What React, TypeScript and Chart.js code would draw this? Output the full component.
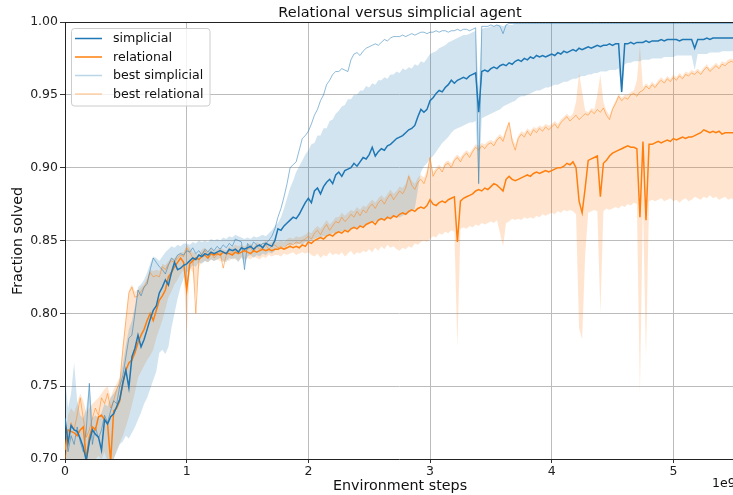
import React, { useEffect, useRef } from "react";
import { Chart, registerables } from "chart.js";

Chart.register(...registerables);

// Environment steps (units of 1e9)
const steps = [
  0, 0.025, 0.05, 0.075, 0.1, 0.125, 0.15, 0.175, 0.2, 0.225,
  0.25, 0.275, 0.3, 0.325, 0.35, 0.375, 0.4, 0.425, 0.45, 0.475,
  0.5, 0.525, 0.55, 0.575, 0.6, 0.625, 0.65, 0.675, 0.7, 0.725,
  0.75, 0.775, 0.8, 0.825, 0.85, 0.875, 0.9, 0.925, 0.95, 0.975,
  1, 1.025, 1.05, 1.075, 1.1, 1.125, 1.15, 1.175, 1.2, 1.225,
  1.25, 1.275, 1.3, 1.325, 1.35, 1.375, 1.4, 1.425, 1.45, 1.475,
  1.5, 1.525, 1.55, 1.575, 1.6, 1.625, 1.65, 1.675, 1.7, 1.725,
  1.75, 1.775, 1.8, 1.825, 1.85, 1.875, 1.9, 1.925, 1.95, 1.975,
  2, 2.025, 2.05, 2.075, 2.1, 2.125, 2.15, 2.175, 2.2, 2.225,
  2.25, 2.275, 2.3, 2.325, 2.35, 2.375, 2.4, 2.425, 2.45, 2.475,
  2.5, 2.525, 2.55, 2.575, 2.6, 2.625, 2.65, 2.675, 2.7, 2.725,
  2.75, 2.775, 2.8, 2.825, 2.85, 2.875, 2.9, 2.925, 2.95, 2.975,
  3, 3.025, 3.05, 3.075, 3.1, 3.125, 3.15, 3.175, 3.2, 3.225,
  3.25, 3.275, 3.3, 3.325, 3.35, 3.375, 3.4, 3.425, 3.45, 3.475,
  3.5, 3.525, 3.55, 3.575, 3.6, 3.625, 3.65, 3.675, 3.7, 3.725,
  3.75, 3.775, 3.8, 3.825, 3.85, 3.875, 3.9, 3.925, 3.95, 3.975,
  4, 4.025, 4.05, 4.075, 4.1, 4.125, 4.15, 4.175, 4.2, 4.225,
  4.25, 4.275, 4.3, 4.325, 4.35, 4.375, 4.4, 4.425, 4.45, 4.475,
  4.5, 4.525, 4.55, 4.575, 4.6, 4.625, 4.65, 4.675, 4.7, 4.725,
  4.75, 4.775, 4.8, 4.825, 4.85, 4.875, 4.9, 4.925, 4.95, 4.975,
  5, 5.025, 5.05, 5.075, 5.1, 5.125, 5.15, 5.175, 5.2, 5.225,
  5.25, 5.275, 5.3, 5.325, 5.35, 5.375, 5.4, 5.425, 5.45, 5.475, 5.5,
];

// Simplicial agent: mean fraction solved
const simplicialMean = [
  0.728, 0.711, 0.723, 0.72, 0.719, 0.714, 0.708, 0.699, 0.712, 0.72,
  0.717, 0.715, 0.706, 0.727, 0.724, 0.729, 0.731, 0.736, 0.741, 0.752,
  0.761, 0.749, 0.77, 0.776, 0.785, 0.777, 0.782, 0.789, 0.796, 0.802,
  0.805, 0.814, 0.818, 0.823, 0.8195, 0.828, 0.835, 0.83, 0.831, 0.833,
  0.834, 0.836, 0.838, 0.837, 0.84, 0.839, 0.841, 0.84, 0.842, 0.841,
  0.842, 0.843, 0.842, 0.841, 0.844, 0.843, 0.844, 0.842, 0.845, 0.844,
  0.845, 0.846, 0.844, 0.846, 0.847, 0.845, 0.848, 0.847, 0.846, 0.85,
  0.858, 0.857, 0.86, 0.862, 0.864, 0.866, 0.865, 0.868, 0.872, 0.876,
  0.879, 0.876, 0.884, 0.886, 0.882, 0.887, 0.89, 0.892, 0.889, 0.895,
  0.897, 0.894, 0.898, 0.899, 0.9, 0.903, 0.901, 0.904, 0.907, 0.906,
  0.909, 0.914, 0.908, 0.911, 0.913, 0.912, 0.915, 0.916, 0.918, 0.92,
  0.921, 0.922, 0.924, 0.926, 0.927, 0.929, 0.935, 0.94, 0.938, 0.94,
  0.946, 0.948, 0.951, 0.953, 0.952, 0.955, 0.957, 0.96, 0.958, 0.96,
  0.961, 0.962, 0.961, 0.963, 0.964, 0.965, 0.938, 0.966, 0.967, 0.966,
  0.968, 0.969, 0.968, 0.97, 0.971, 0.97, 0.972, 0.971, 0.973, 0.974,
  0.973, 0.975, 0.974, 0.976, 0.975, 0.977, 0.976, 0.977, 0.976, 0.977,
  0.978, 0.977, 0.979, 0.978, 0.98, 0.979, 0.98, 0.981, 0.98, 0.982,
  0.981, 0.982, 0.983, 0.982, 0.983, 0.984, 0.983, 0.984, 0.984, 0.985,
  0.984, 0.985, 0.985, 0.952, 0.985, 0.985, 0.986, 0.985, 0.986, 0.986,
  0.986, 0.987, 0.986, 0.987, 0.987, 0.987, 0.988, 0.987, 0.988, 0.988,
  0.988, 0.988, 0.987, 0.988, 0.988, 0.988, 0.988, 0.982, 0.988, 0.988,
  0.988, 0.989, 0.988, 0.989, 0.989, 0.989, 0.989, 0.989, 0.989, 0.989, 0.989,
];

// Simplicial agent: best seed
const simplicialBest = [
  0.72, 0.705, 0.716, 0.71, 0.722, 0.712, 0.705, 0.72, 0.752, 0.71,
  0.722, 0.714, 0.72, 0.73, 0.725, 0.733, 0.74, 0.738, 0.75, 0.757,
  0.77, 0.783, 0.785, 0.8, 0.816, 0.812, 0.818, 0.82, 0.83, 0.838,
  0.835, 0.832, 0.83, 0.827, 0.833, 0.838, 0.836, 0.84, 0.841, 0.84,
  0.843, 0.842, 0.845, 0.841, 0.843, 0.84, 0.844, 0.842, 0.845, 0.843,
  0.846, 0.844, 0.847, 0.845, 0.848, 0.846, 0.851, 0.85, 0.849, 0.83,
  0.848, 0.845, 0.849, 0.847, 0.846, 0.848, 0.848, 0.85, 0.853, 0.858,
  0.866, 0.872, 0.88, 0.889, 0.9, 0.902, 0.904, 0.912, 0.92, 0.922,
  0.925, 0.93, 0.936, 0.94, 0.946, 0.95, 0.957, 0.96, 0.964, 0.966,
  0.966, 0.968, 0.967, 0.966, 0.974, 0.978, 0.979, 0.977, 0.98, 0.982,
  0.983, 0.984, 0.985, 0.984, 0.986, 0.988, 0.987, 0.989, 0.99, 0.99,
  0.99, 0.991, 0.99, 0.991, 0.992, 0.991, 0.992, 0.993, 0.993, 0.992,
  0.993, 0.993, 0.994, 0.993, 0.994, 0.994, 0.993, 0.994, 0.994, 0.995,
  0.994, 0.995, 0.995, 0.994, 0.995, 0.996, 0.889, 0.997, 0.997, 0.997,
  0.998, 0.997, 0.998, 0.997, 0.992, 0.998, 0.999, 0.999, 0.999, 0.999,
  0.999, 0.999, 0.999, 0.999, 0.999, 0.999, 0.999, 0.999, 0.999, 0.999,
  0.999, 0.999, 0.999, 0.999, 0.999, 0.999, 0.999, 0.999, 0.999, 0.999,
  0.999, 0.999, 0.999, 0.999, 0.999, 0.999, 0.999, 0.999, 0.999, 0.999,
  0.999, 0.999, 0.999, 0.999, 0.999, 0.999, 0.999, 0.999, 0.999, 0.999,
  0.999, 0.999, 0.999, 0.999, 0.999, 0.999, 0.999, 0.999, 0.999, 0.999,
  0.999, 0.999, 0.999, 0.999, 0.999, 0.999, 0.999, 0.999, 0.999, 0.999,
  0.999, 0.999, 0.999, 0.999, 0.999, 0.999, 0.999, 0.999, 0.999, 0.999, 0.999,
];

// Simplicial agent: spread across seeds (lower / upper)
const simplicialLow = [
  0.705, 0.69, 0.7, 0.695, 0.69, 0.69, 0.685, 0.68, 0.69, 0.695,
  0.69, 0.685, 0.68, 0.69, 0.695, 0.69, 0.7, 0.705, 0.71, 0.712,
  0.716, 0.714, 0.718, 0.722, 0.727, 0.732, 0.738, 0.742, 0.748, 0.754,
  0.76, 0.773, 0.775, 0.772, 0.777, 0.79, 0.8, 0.81, 0.818, 0.824,
  0.828, 0.83, 0.833, 0.832, 0.835, 0.834, 0.836, 0.835, 0.837, 0.836,
  0.837, 0.838, 0.836, 0.835, 0.838, 0.837, 0.838, 0.835, 0.839, 0.832,
  0.839, 0.84, 0.838, 0.84, 0.839, 0.841, 0.84, 0.842, 0.841, 0.843,
  0.845, 0.846, 0.845, 0.847, 0.846, 0.848, 0.847, 0.848, 0.847, 0.849,
  0.849, 0.85, 0.851, 0.852, 0.852, 0.853, 0.853, 0.854, 0.855, 0.855,
  0.856, 0.856, 0.857, 0.857, 0.858, 0.858, 0.859, 0.86, 0.86, 0.861,
  0.862, 0.862, 0.863, 0.863, 0.864, 0.864, 0.865, 0.865, 0.866, 0.866,
  0.866, 0.867, 0.868, 0.869, 0.87, 0.872, 0.885, 0.897, 0.901, 0.903,
  0.906, 0.908, 0.911, 0.914, 0.917, 0.919, 0.921, 0.924, 0.926, 0.927,
  0.928, 0.929, 0.93, 0.931, 0.931, 0.932, 0.887, 0.934, 0.935, 0.936,
  0.937, 0.938, 0.939, 0.94, 0.942, 0.943, 0.944, 0.945, 0.946, 0.948,
  0.949, 0.949, 0.95, 0.951, 0.952, 0.953, 0.953, 0.954, 0.955, 0.955,
  0.956, 0.957, 0.957, 0.958, 0.959, 0.959, 0.96, 0.961, 0.961, 0.962,
  0.963, 0.963, 0.964, 0.964, 0.965, 0.965, 0.966, 0.966, 0.966, 0.967,
  0.967, 0.967, 0.968, 0.95, 0.971, 0.972, 0.972, 0.973, 0.973, 0.973,
  0.974, 0.974, 0.974, 0.975, 0.975, 0.975, 0.975, 0.976, 0.976, 0.976,
  0.976, 0.977, 0.977, 0.977, 0.977, 0.977, 0.977, 0.967, 0.978, 0.978,
  0.978, 0.978, 0.979, 0.979, 0.979, 0.979, 0.98, 0.98, 0.98, 0.98, 0.98,
];

const simplicialHigh = [
  0.756, 0.735, 0.745, 0.766, 0.74, 0.73, 0.728, 0.735, 0.752, 0.728,
  0.73, 0.728, 0.732, 0.738, 0.736, 0.742, 0.745, 0.748, 0.755, 0.765,
  0.778, 0.789, 0.795, 0.805, 0.818, 0.82, 0.823, 0.828, 0.834, 0.839,
  0.838, 0.836, 0.839, 0.842, 0.844, 0.846, 0.845, 0.847, 0.846, 0.848,
  0.848, 0.847, 0.849, 0.848, 0.85, 0.849, 0.85, 0.849, 0.851, 0.85,
  0.851, 0.85, 0.852, 0.851, 0.853, 0.852, 0.854, 0.853, 0.852, 0.851,
  0.852, 0.851, 0.853, 0.852, 0.853, 0.854, 0.853, 0.855, 0.857, 0.86,
  0.862, 0.866, 0.872, 0.879, 0.886, 0.891, 0.897, 0.901, 0.905, 0.909,
  0.912, 0.916, 0.917, 0.922, 0.922, 0.927, 0.927, 0.932, 0.933, 0.937,
  0.939, 0.942, 0.943, 0.947, 0.947, 0.95, 0.95, 0.953, 0.953, 0.956,
  0.955, 0.958, 0.957, 0.96, 0.96, 0.962, 0.961, 0.964, 0.964, 0.966,
  0.965, 0.968, 0.967, 0.969, 0.968, 0.971, 0.97, 0.973, 0.972, 0.975,
  0.978, 0.979, 0.98, 0.982, 0.983, 0.984, 0.986, 0.987, 0.988, 0.989,
  0.99, 0.991, 0.991, 0.992, 0.993, 0.994, 0.955, 0.995, 0.996, 0.996,
  0.997, 0.997, 0.998, 0.998, 0.997, 0.998, 0.998, 0.998, 0.999, 0.999,
  0.999, 0.999, 0.999, 0.999, 0.999, 0.999, 0.999, 0.999, 0.999, 0.999,
  0.999, 0.999, 0.999, 0.999, 0.999, 0.999, 0.999, 0.999, 0.999, 0.999,
  0.999, 0.999, 0.999, 0.999, 0.999, 0.999, 0.999, 0.999, 0.999, 0.999,
  0.999, 0.999, 0.999, 0.999, 0.999, 0.999, 0.999, 0.999, 0.999, 0.999,
  0.999, 0.999, 0.999, 0.999, 0.999, 0.999, 0.999, 0.999, 0.999, 0.999,
  0.999, 0.999, 0.999, 0.999, 0.999, 0.999, 0.999, 0.999, 0.999, 0.999,
  0.999, 0.999, 0.999, 0.999, 0.999, 0.999, 0.999, 0.999, 0.999, 0.999, 0.999,
];

// Relational agent: mean fraction solved
const relationalMean = [
  0.706, 0.72, 0.719, 0.718, 0.716, 0.72, 0.722, 0.7, 0.715, 0.722,
  0.72, 0.729, 0.73, 0.727, 0.724, 0.698, 0.733, 0.735, 0.74, 0.752,
  0.761, 0.766, 0.768, 0.773, 0.78, 0.785, 0.789, 0.795, 0.8, 0.795,
  0.802, 0.809, 0.812, 0.816, 0.825, 0.828, 0.832, 0.835, 0.838, 0.835,
  0.816, 0.834, 0.836, 0.838, 0.837, 0.839, 0.84, 0.838, 0.841, 0.84,
  0.841, 0.84, 0.842, 0.841, 0.841, 0.84, 0.842, 0.841, 0.842, 0.843,
  0.842, 0.841, 0.843, 0.842, 0.843, 0.844, 0.843, 0.844, 0.843, 0.844,
  0.844, 0.845, 0.844, 0.845, 0.846, 0.845, 0.846, 0.845, 0.847, 0.846,
  0.849, 0.848, 0.85, 0.851, 0.852, 0.851, 0.853, 0.854, 0.853, 0.855,
  0.856, 0.855, 0.857, 0.856, 0.858, 0.859, 0.858, 0.86, 0.859, 0.861,
  0.862, 0.863, 0.861, 0.864, 0.865, 0.864, 0.866, 0.865, 0.867, 0.866,
  0.868, 0.869, 0.868, 0.87, 0.871, 0.87, 0.872, 0.873, 0.872, 0.874,
  0.878, 0.875, 0.874, 0.876, 0.877, 0.876, 0.878, 0.879, 0.88, 0.849,
  0.877, 0.879, 0.88, 0.881, 0.882, 0.884, 0.885, 0.884, 0.886, 0.885,
  0.887, 0.889, 0.888, 0.886, 0.884, 0.892, 0.894, 0.892, 0.891, 0.892,
  0.893, 0.894, 0.895, 0.894, 0.896, 0.897, 0.896, 0.897, 0.898, 0.897,
  0.898, 0.899, 0.9, 0.9, 0.901, 0.903, 0.902, 0.904, 0.9, 0.877,
  0.869, 0.886, 0.905, 0.906, 0.907, 0.908, 0.88, 0.903, 0.905, 0.908,
  0.91, 0.911, 0.912, 0.913, 0.914, 0.915, 0.914, 0.914, 0.913, 0.866,
  0.918, 0.864, 0.916, 0.916, 0.917, 0.918, 0.917, 0.918, 0.919, 0.918,
  0.92, 0.919, 0.92, 0.921, 0.92, 0.921, 0.921, 0.922, 0.923, 0.924,
  0.926, 0.925, 0.924, 0.925, 0.924, 0.925, 0.923, 0.924, 0.924, 0.924, 0.924,
];

// Relational agent: best seed
const relationalBest = [
  0.7, 0.712, 0.725, 0.72, 0.73, 0.742, 0.728, 0.715, 0.72, 0.728,
  0.735, 0.73, 0.742, 0.738, 0.745, 0.735, 0.74, 0.748, 0.752, 0.775,
  0.795, 0.814, 0.818, 0.811, 0.812, 0.815, 0.818, 0.822, 0.828, 0.825,
  0.826, 0.825, 0.832, 0.83, 0.834, 0.836, 0.835, 0.838, 0.84, 0.839,
  0.845, 0.842, 0.838, 0.8, 0.836, 0.841, 0.843, 0.84, 0.842, 0.838,
  0.84, 0.842, 0.831, 0.84, 0.843, 0.841, 0.844, 0.843, 0.845, 0.842,
  0.844, 0.845, 0.842, 0.846, 0.844, 0.845, 0.847, 0.844, 0.846, 0.847,
  0.845, 0.846, 0.844, 0.847, 0.848, 0.847, 0.849, 0.848, 0.85, 0.851,
  0.853, 0.851, 0.855, 0.857, 0.854, 0.858, 0.861, 0.857, 0.86, 0.863,
  0.862, 0.866, 0.863, 0.865, 0.868, 0.866, 0.87, 0.867, 0.871, 0.869,
  0.873, 0.875, 0.872, 0.876, 0.878, 0.875, 0.879, 0.882, 0.878, 0.881,
  0.884, 0.882, 0.886, 0.894, 0.888, 0.885, 0.89, 0.892, 0.889, 0.895,
  0.907, 0.894, 0.898, 0.9, 0.897, 0.902, 0.903, 0.9, 0.905, 0.907,
  0.904, 0.908, 0.91, 0.907, 0.911, 0.914, 0.912, 0.915, 0.913, 0.916,
  0.917, 0.915, 0.919, 0.921, 0.918, 0.925, 0.931, 0.918, 0.912, 0.92,
  0.923, 0.921, 0.925, 0.922, 0.926, 0.924, 0.927, 0.925, 0.928, 0.926,
  0.928, 0.93, 0.927, 0.931, 0.933, 0.935, 0.932, 0.934, 0.936, 0.933,
  0.935, 0.937, 0.936, 0.939, 0.937, 0.94, 0.938, 0.941, 0.936, 0.933,
  0.94, 0.944, 0.949, 0.946, 0.948, 0.947, 0.95, 0.951, 0.949, 0.952,
  0.953, 0.956, 0.954, 0.957, 0.955, 0.958, 0.96, 0.958, 0.961, 0.959,
  0.962, 0.96, 0.963, 0.961, 0.964, 0.963, 0.965, 0.964, 0.966, 0.964,
  0.967, 0.969, 0.966, 0.968, 0.97, 0.968, 0.971, 0.97, 0.972, 0.973, 0.972,
];

// Relational agent: spread across seeds (lower / upper)
const relationalLow = [
  0.69, 0.695, 0.7, 0.698, 0.695, 0.692, 0.69, 0.688, 0.69, 0.695,
  0.7, 0.702, 0.7, 0.705, 0.698, 0.69, 0.7, 0.706, 0.711, 0.716,
  0.722, 0.729, 0.737, 0.746, 0.756, 0.76, 0.764, 0.768, 0.771, 0.775,
  0.783, 0.789, 0.795, 0.803, 0.811, 0.815, 0.82, 0.823, 0.827, 0.83,
  0.785, 0.831, 0.828, 0.81, 0.832, 0.835, 0.836, 0.835, 0.837, 0.836,
  0.837, 0.836, 0.835, 0.837, 0.836, 0.838, 0.837, 0.836, 0.838, 0.837,
  0.838, 0.837, 0.839, 0.838, 0.837, 0.839, 0.838, 0.84, 0.839, 0.84,
  0.84, 0.839, 0.841, 0.84, 0.841, 0.842, 0.84, 0.841, 0.842, 0.841,
  0.842, 0.84, 0.839, 0.841, 0.838, 0.84, 0.839, 0.842, 0.84, 0.841,
  0.84, 0.842, 0.839, 0.841, 0.843, 0.84, 0.842, 0.841, 0.843, 0.842,
  0.844, 0.842, 0.845, 0.843, 0.846, 0.844, 0.847, 0.845, 0.846, 0.844,
  0.843, 0.845, 0.844, 0.846, 0.845, 0.848, 0.847, 0.849, 0.85, 0.849,
  0.851, 0.853, 0.852, 0.855, 0.854, 0.856, 0.855, 0.857, 0.856, 0.777,
  0.858, 0.859, 0.858, 0.86, 0.859, 0.861, 0.86, 0.862, 0.861, 0.862,
  0.863, 0.862, 0.864, 0.855, 0.846, 0.862, 0.863, 0.865, 0.864, 0.865,
  0.864, 0.866, 0.865, 0.866, 0.865, 0.867, 0.866, 0.868, 0.867, 0.868,
  0.869, 0.868, 0.87, 0.869, 0.871, 0.87, 0.871, 0.87, 0.868, 0.79,
  0.782, 0.84, 0.869, 0.87, 0.871, 0.87, 0.8, 0.87, 0.872, 0.871,
  0.872, 0.873, 0.872, 0.874, 0.873, 0.875, 0.874, 0.876, 0.875, 0.745,
  0.876, 0.77, 0.877, 0.878, 0.877, 0.878, 0.879, 0.877, 0.878, 0.879,
  0.877, 0.878, 0.876, 0.878, 0.879, 0.877, 0.878, 0.88, 0.879, 0.878,
  0.88, 0.879, 0.881, 0.879, 0.88, 0.878, 0.879, 0.88, 0.878, 0.879, 0.878,
];

const relationalHigh = [
  0.712, 0.73, 0.735, 0.732, 0.738, 0.745, 0.74, 0.732, 0.735, 0.738,
  0.74, 0.742, 0.745, 0.748, 0.75, 0.742, 0.748, 0.752, 0.756, 0.778,
  0.797, 0.816, 0.82, 0.815, 0.816, 0.818, 0.82, 0.824, 0.83, 0.829,
  0.83, 0.829, 0.834, 0.833, 0.836, 0.838, 0.838, 0.84, 0.842, 0.842,
  0.847, 0.845, 0.842, 0.841, 0.84, 0.844, 0.845, 0.843, 0.845, 0.843,
  0.844, 0.845, 0.844, 0.843, 0.846, 0.845, 0.847, 0.846, 0.847, 0.846,
  0.847, 0.848, 0.846, 0.849, 0.848, 0.848, 0.85, 0.848, 0.849, 0.85,
  0.849, 0.85, 0.849, 0.851, 0.852, 0.851, 0.853, 0.852, 0.853, 0.854,
  0.856, 0.855, 0.858, 0.86, 0.858, 0.861, 0.864, 0.861, 0.863, 0.866,
  0.866, 0.869, 0.867, 0.869, 0.871, 0.87, 0.873, 0.871, 0.874, 0.873,
  0.876, 0.878, 0.876, 0.879, 0.881, 0.879, 0.882, 0.885, 0.882, 0.884,
  0.887, 0.886, 0.889, 0.896, 0.891, 0.889, 0.893, 0.895, 0.893, 0.898,
  0.908, 0.897, 0.9, 0.902, 0.9, 0.904, 0.905, 0.903, 0.907, 0.909,
  0.907, 0.91, 0.912, 0.91, 0.913, 0.916, 0.915, 0.917, 0.916, 0.918,
  0.919, 0.918, 0.921, 0.923, 0.921, 0.927, 0.932, 0.921, 0.916, 0.922,
  0.925, 0.924, 0.927, 0.925, 0.928, 0.927, 0.929, 0.928, 0.93, 0.929,
  0.93, 0.932, 0.93, 0.933, 0.935, 0.937, 0.935, 0.937, 0.945, 0.965,
  0.952, 0.939, 0.938, 0.941, 0.94, 0.95, 0.964, 0.945, 0.939, 0.936,
  0.942, 0.946, 0.951, 0.948, 0.95, 0.95, 0.952, 0.953, 0.96, 0.984,
  0.955, 0.958, 0.956, 0.959, 0.957, 0.96, 0.962, 0.96, 0.963, 0.961,
  0.964, 0.962, 0.965, 0.963, 0.966, 0.965, 0.967, 0.966, 0.968, 0.966,
  0.969, 0.971, 0.968, 0.97, 0.972, 0.97, 0.973, 0.972, 0.974, 0.975, 0.974,
];

const stepTicks = [0, 1, 2, 3, 4, 5];
const fractionTicks = [0.7, 0.75, 0.8, 0.85, 0.9, 0.95, 1.0];

const legendNames = ["simplicial", "relational", "best simplicial", "best relational"];
const legendColors = ["#1f77b4", "#ff7f0e", "rgba(31,119,180,0.3)", "rgba(255,127,14,0.45)"];
const legendWidths = [1.5, 1.5, 1.5, 1.2];

const chartTitle = "Relational versus simplicial agent";
const xTitle = "Environment steps";
const yTitle = "Fraction solved";
const xExponent = "1e9";

const FONT = '"DejaVu Sans", sans-serif';

const toPoints = (ys: number[]) => steps.map((x, i) => ({ x, y: ys[i] }));

const decorations = {
  id: "decorations",
  afterDraw(chart: any) {
    const { ctx, chartArea: a } = chart;
    ctx.save();

    // top spine
    ctx.strokeStyle = "#222";
    ctx.lineWidth = 1;
    ctx.beginPath();
    ctx.moveTo(a.left, a.top + 0.5);
    ctx.lineTo(a.right, a.top + 0.5);
    ctx.stroke();

    ctx.fillStyle = "#111";
    ctx.textAlign = "center";
    ctx.textBaseline = "middle";
    ctx.font = `14.5px ${FONT}`;
    ctx.fillText(chartTitle, 400, 13);

    ctx.font = `14.3px ${FONT}`;
    ctx.fillText(xTitle, 400, 486);

    ctx.save();
    ctx.translate(18, 241);
    ctx.rotate(-Math.PI / 2);
    ctx.fillText(yTitle, 0, 0);
    ctx.restore();

    ctx.font = `12.5px ${FONT}`;
    ctx.textAlign = "left";
    ctx.fillText(xExponent, 712, 484);

    // legend box
    const lx = 71.5, ly = 28.5, lw = 138.5, lh = 77.5, r = 3;
    ctx.beginPath();
    ctx.moveTo(lx + r, ly);
    ctx.lineTo(lx + lw - r, ly);
    ctx.quadraticCurveTo(lx + lw, ly, lx + lw, ly + r);
    ctx.lineTo(lx + lw, ly + lh - r);
    ctx.quadraticCurveTo(lx + lw, ly + lh, lx + lw - r, ly + lh);
    ctx.lineTo(lx + r, ly + lh);
    ctx.quadraticCurveTo(lx, ly + lh, lx, ly + lh - r);
    ctx.lineTo(lx, ly + r);
    ctx.quadraticCurveTo(lx, ly, lx + r, ly);
    ctx.closePath();
    ctx.fillStyle = "rgba(255,255,255,0.8)";
    ctx.fill();
    ctx.strokeStyle = "#cccccc";
    ctx.lineWidth = 1;
    ctx.stroke();

    const rows = [38.5, 57, 75.5, 94];
    ctx.font = `12.6px ${FONT}`;
    ctx.textAlign = "left";
    ctx.textBaseline = "middle";
    legendNames.forEach((name, i) => {
      ctx.strokeStyle = legendColors[i];
      ctx.lineWidth = legendWidths[i];
      ctx.beginPath();
      ctx.moveTo(75, rows[i]);
      ctx.lineTo(102, rows[i]);
      ctx.stroke();
      ctx.fillStyle = "#111";
      ctx.fillText(name, 113, rows[i] + 0.5);
    });

    ctx.restore();
  },
};

export default function App() {
  const canvasRef = useRef<HTMLCanvasElement | null>(null);

  useEffect(() => {
    if (!canvasRef.current) return;
    const line = (data: any, color: string, width: number) => ({
      data,
      borderColor: color,
      borderWidth: width,
      pointRadius: 0,
      pointHoverRadius: 0,
      fill: false,
      tension: 0,
    });
    const bound = (data: any, fill: any, bg: string) => ({
      data,
      borderColor: "rgba(0,0,0,0)",
      borderWidth: 0,
      pointRadius: 0,
      pointHoverRadius: 0,
      fill,
      backgroundColor: bg,
      tension: 0,
    });

    const chart = new Chart(canvasRef.current, {
      type: "line",
      data: {
        datasets: [
          { label: legendNames[0], ...line(toPoints(simplicialMean), "#1f77b4", 1.5) },
          { label: legendNames[1], ...line(toPoints(relationalMean), "#ff7f0e", 1.5) },
          { label: legendNames[2], ...line(toPoints(simplicialBest), "rgba(31,119,180,0.5)", 1) },
          { label: legendNames[3], ...line(toPoints(relationalBest), "rgba(255,127,14,0.5)", 1) },
          { label: "simplicial low", ...bound(toPoints(simplicialLow), false, "rgba(0,0,0,0)") },
          { label: "simplicial high", ...bound(toPoints(simplicialHigh), "-1", "rgba(31,119,180,0.2)") },
          { label: "relational low", ...bound(toPoints(relationalLow), false, "rgba(0,0,0,0)") },
          { label: "relational high", ...bound(toPoints(relationalHigh), "-1", "rgba(255,127,14,0.2)") },
        ] as any,
      },
      options: {
        responsive: false,
        animation: false,
        devicePixelRatio: 1,
        events: [],
        layout: { padding: { top: 22, left: 0, right: 0, bottom: 0 } },
        plugins: {
          legend: { display: false },
          title: { display: false },
          tooltip: { enabled: false },
          filler: { propagate: false, drawTime: "beforeDatasetsDraw" } as any,
        },
        scales: {
          x: {
            type: "linear",
            min: 0,
            max: 5.49,
            afterBuildTicks: (s: any) => {
              s.ticks = stepTicks.map((v) => ({ value: v }));
            },
            afterFit: (s: any) => {
              s.height = 36;
            },
            grid: { color: "#bcbcbc", lineWidth: 1, tickLength: 4, tickColor: "#333" },
            border: { display: true, color: "#222", width: 1 },
            ticks: {
              color: "#222",
              font: { family: FONT, size: 12.5 },
              padding: 1,
              maxRotation: 0,
              callback: (v: any) => String(v),
            },
          },
          y: {
            type: "linear",
            min: 0.7,
            max: 1.0,
            afterBuildTicks: (s: any) => {
              s.ticks = fractionTicks.map((v) => ({ value: v }));
            },
            afterFit: (s: any) => {
              s.width = 65;
            },
            grid: { color: "#bcbcbc", lineWidth: 1, tickLength: 5, tickColor: "#333" },
            border: { display: true, color: "#222", width: 1 },
            ticks: {
              color: "#222",
              font: { family: FONT, size: 12.5 },
              padding: 2,
              callback: (v: any) => Number(v).toFixed(2),
            },
          },
        },
      },
      plugins: [decorations],
    });
    return () => chart.destroy();
  }, []);

  return (
    <div style={{ position: "absolute", left: 0, top: 0, width: 733, height: 495, background: "#fff" }}>
      <canvas ref={canvasRef} width={733} height={495} />
    </div>
  );
}
